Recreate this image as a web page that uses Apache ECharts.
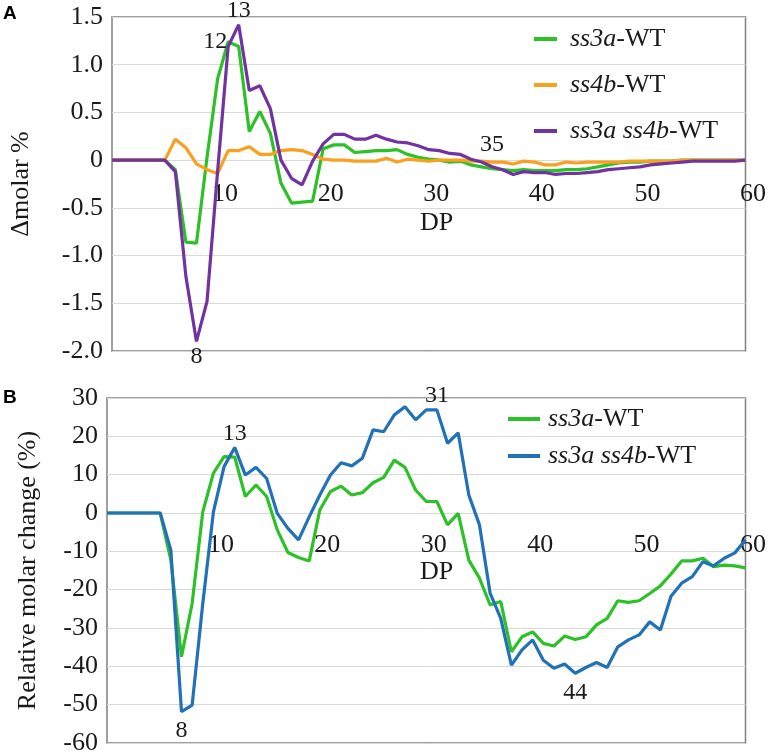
<!DOCTYPE html>
<html><head><meta charset="utf-8">
<script src="https://cdn.jsdelivr.net/npm/echarts@6/dist/echarts.min.js"></script>
<style>html,body{margin:0;padding:0;background:#fff}#c{width:769px;height:756px}</style>
</head><body><div id="c"></div>
<script>
// DP positions (x values)
const dp = [0,1,2,3,4,5,6,7,8,9,10,11,12,13,14,15,16,17,18,19,20,21,22,23,24,25,26,27,28,29,30,
            31,32,33,34,35,36,37,38,39,40,41,42,43,44,45,46,47,48,49,50,51,52,53,54,55,56,57,58,59,60];

// Panel A: delta molar %
const aSs3a = [0,0,0,0,0,0,-0.10,-0.86,-0.87,0.03,0.85,1.24,1.19,0.30,0.51,0.28,-0.24,-0.45,-0.44,-0.43,
  0.12,0.16,0.16,0.08,0.09,0.10,0.10,0.11,0.06,0.03,0.01,0.00,-0.02,-0.01,-0.05,-0.07,-0.09,-0.10,-0.11,-0.10,
  -0.11,-0.11,-0.11,-0.10,-0.10,-0.09,-0.07,-0.05,-0.03,-0.02,-0.02,-0.01,-0.01,-0.01,0,0,0,0,0,0,0];
const aSs4b = [0,0,0,0,0,0,0.22,0.13,-0.04,-0.10,-0.14,0.10,0.10,0.14,0.06,0.06,0.10,0.11,0.10,0.06,
  0.01,0.00,0.00,-0.01,-0.01,-0.01,0.02,-0.02,0.01,0.00,-0.01,0.00,0.00,0.00,-0.01,-0.01,-0.02,-0.02,-0.04,-0.01,
  -0.02,-0.05,-0.05,-0.02,-0.03,-0.02,-0.02,-0.02,-0.02,-0.01,-0.01,-0.01,-0.01,-0.01,0,0,0,0,0,0,0];
const aSs3aSs4b = [0,0,0,0,0,0,-0.12,-1.22,-1.90,-1.48,-0.12,1.19,1.42,0.73,0.78,0.54,0.00,-0.19,-0.26,-0.01,
  0.17,0.27,0.27,0.22,0.22,0.26,0.22,0.19,0.18,0.15,0.11,0.10,0.07,0.06,0.01,-0.02,-0.07,-0.10,-0.15,-0.12,
  -0.13,-0.13,-0.15,-0.14,-0.14,-0.13,-0.12,-0.10,-0.09,-0.08,-0.07,-0.05,-0.04,-0.03,-0.02,-0.01,-0.01,-0.01,-0.01,-0.01,0];

// Panel B: relative molar change (%)
const bSs3a = [0,0,0,0,0,0,-12.3,-37.5,-23.6,0.3,10.4,14.7,14.6,4.3,7.3,4.3,-4.4,-10.3,-11.6,-12.5,
  0.8,5.6,7.0,4.7,5.3,7.9,9.3,13.8,11.9,6.0,3.0,3.0,-3.1,-0.1,-12.3,-17.0,-24.0,-23.1,-36.2,-32.3,
  -31.0,-34.0,-34.7,-32.1,-33.0,-32.3,-29.2,-27.5,-22.9,-23.3,-22.9,-21.0,-19.0,-15.9,-12.5,-12.5,-11.8,-14.0,-13.6,-13.8,-14.3];
const bSs3aSs4b = [0,0,0,0,0,0,-9.7,-51.8,-50.1,-23.6,0.3,12.1,17.1,9.9,11.9,9.0,-0.1,-4.0,-7.0,-1.0,
  4.7,9.9,13.1,12.3,14.3,21.7,21.2,25.6,27.7,24.3,26.9,26.9,18.2,20.9,4.7,-3.1,-20.9,-27.5,-39.7,-35.7,
  -33.1,-38.4,-40.5,-39.4,-41.8,-40.3,-39.0,-40.3,-34.9,-33.1,-31.8,-28.4,-30.5,-21.7,-18.3,-16.6,-12.7,-13.8,-11.8,-10.4,-7.0];

// Axis ranges / ticks
const xRange = [0, 60], xStep = 10;
const yRangeA = [-2, 1.5], yStepA = 0.5;
const yRangeB = [-60, 30], yStepB = 10;

// Annotated points: which series, at which DP index, which text
const annotA = [
  {series:'aSs3aSs4b', idx:12, text:'13', place:'top'},
  {series:'aSs3a', idx:11, text:'12', place:'left'},
  {series:'aSs3aSs4b', idx:8, text:'8', place:'bottom'},
  {series:'aSs3aSs4b', idx:36, text:'35', place:'topFar'}
];
const annotB = [
  {series:'bSs3aSs4b', idx:12, text:'13', place:'top'},
  {series:'bSs3aSs4b', idx:7, text:'8', place:'bottomFar'},
  {series:'bSs3aSs4b', idx:31, text:'31', place:'top'},
  {series:'bSs3aSs4b', idx:44, text:'44', place:'bottomFar'}
];

const SERIF = 'Liberation Serif';
const TXT = '#1a1a1a';
const GREEN = '#2cc227', ORANGE = '#fa9f1e', PURPLE = '#7232a0', BLUE = '#2171b8';

const placeStyle = {
  top: {position:'top', distance:2},
  topFar: {position:'top', distance:10},
  left: {position:'left', distance:1},
  bottom: {position:'bottom', distance:3},
  bottomFar: {position:'bottom', distance:7}
};

function build(key, vals, annots) {
  return vals.map((v, i) => {
    const item = {value: [dp[i], v]};
    const a = annots.find(t => t.series === key && t.idx === i);
    if (a) {
      item.label = Object.assign({show:true, formatter:a.text, fontSize:24, fontFamily:SERIF, color:TXT},
                                 placeStyle[a.place]);
    }
    return item;
  });
}

const legendNames = {
  a1:['ss3a','-WT'], a2:['ss4b','-WT'], a3:['ss3a ss4b','-WT'],
  b1:['ss3a','-WT'], b2:['ss3a ss4b','-WT']
};

// grid layout
const G = [
  {left:106, top:17, width:640, height:334},
  {left:107, top:398, width:641, height:345}
];
const yRanges = [yRangeA, yRangeB];

function zeroOffset(gi) {
  const r = yRanges[gi];
  return -G[gi].height * (0 - r[0]) / (r[1] - r[0]);
}

function xAx(gi, margin) {
  return {
    gridIndex: gi, type:'value', min:xRange[0], max:xRange[1], interval:xStep,
    position:'bottom', offset: zeroOffset(gi),
    axisLine:{show:true, onZero:false, lineStyle:{color:'#d9d9d9', width:1}},
    axisTick:{show:false}, splitLine:{show:false},
    axisLabel:{formatter: v => (v === 0 ? '' : String(v)), fontSize:26, fontFamily:SERIF, color:TXT,
               margin:margin, padding:[0,0,0,15]}
  };
}
function yAx(gi, step, name, gap, fmt) {
  const r = yRanges[gi];
  const ax = {
    gridIndex: gi, type:'value', min:r[0], max:r[1], interval:step,
    axisLine:{show:false}, axisTick:{show:false},
    splitLine:{show:true, lineStyle:{color:'#d9d9d9', width:1}},
    axisLabel:{fontSize:26, fontFamily:SERIF, color:TXT, margin:9},
    name:name, nameLocation:'middle', nameGap:gap,
    nameTextStyle:{fontSize:26, fontFamily:SERIF, color:TXT}
  };
  if (fmt) ax.axisLabel.formatter = fmt;
  return ax;
}

function lineSeries(name, xi, data, color) {
  return {
    name:name, type:'line', xAxisIndex:xi, yAxisIndex:xi, data:data,
    symbol:'circle', symbolSize:0, showSymbol:true, showAllSymbol:true,
    lineStyle:{color:color, width:3.2}, itemStyle:{color:color},
    emphasis:{disabled:true}, animation:false, silent:true
  };
}

function legendCfg(names, left, top, iw, gap, pad) {
  return {
    data:names, left:left, top:top, padding:0, orient:'vertical', icon:'rect',
    itemWidth:iw, itemHeight:4, itemGap:gap, selectedMode:false,
    formatter: n => '{i|' + legendNames[n][0] + '}{n|' + legendNames[n][1] + '}',
    textStyle:{fontSize:26, fontFamily:SERIF, color:TXT, padding:[0,0,0,pad], lineHeight:26,
      rich:{ i:{fontStyle:'italic', fontSize:26, fontFamily:SERIF, color:TXT, lineHeight:26},
             n:{fontStyle:'normal', fontSize:26, fontFamily:SERIF, color:TXT, lineHeight:26} }}
  };
}

const chart = echarts.init(document.getElementById('c'), null, {renderer:'canvas'});
chart.setOption({
  backgroundColor:'#fff',
  animation:false,
  title:[
    {text:'A', left:3, top:4, padding:0, textStyle:{fontFamily:'Liberation Sans', fontWeight:'bold', fontSize:19, color:'#000'}},
    {text:'B', left:3, top:388, padding:0, textStyle:{fontFamily:'Liberation Sans', fontWeight:'bold', fontSize:19, color:'#000'}}
  ],
  grid:G.map(g => Object.assign({show:true, borderColor:'#808080', borderWidth:1.5, backgroundColor:'transparent'}, g)),
  xAxis:[xAx(0, 21), xAx(1, 19)],
  yAxis:[
    yAx(0, yStepA, 'Δmolar %', 78, v => (Math.abs(v) < 1e-9 ? '0' : v.toFixed(1))),
    yAx(1, yStepB, 'Relative molar change (%)', 66, null)
  ],
  legend:[
    legendCfg(['a1','a2','a3'], 534, 26, 23, 20, 8),
    legendCfg(['b1','b2'], 508, 406, 32, 11, 3)
  ],
  graphic:[
    {type:'text', left:420, top:210, style:{text:'DP', font:'26px Liberation Serif', fill:TXT}},
    {type:'text', left:420, top:559, style:{text:'DP', font:'26px Liberation Serif', fill:TXT}}
  ],
  series:[
    lineSeries('a1', 0, build('aSs3a', aSs3a, annotA), GREEN),
    lineSeries('a2', 0, build('aSs4b', aSs4b, annotA), ORANGE),
    lineSeries('a3', 0, build('aSs3aSs4b', aSs3aSs4b, annotA), PURPLE),
    lineSeries('b1', 1, build('bSs3a', bSs3a, annotB), GREEN),
    lineSeries('b2', 1, build('bSs3aSs4b', bSs3aSs4b, annotB), BLUE)
  ]
});
</script>
</body></html>
